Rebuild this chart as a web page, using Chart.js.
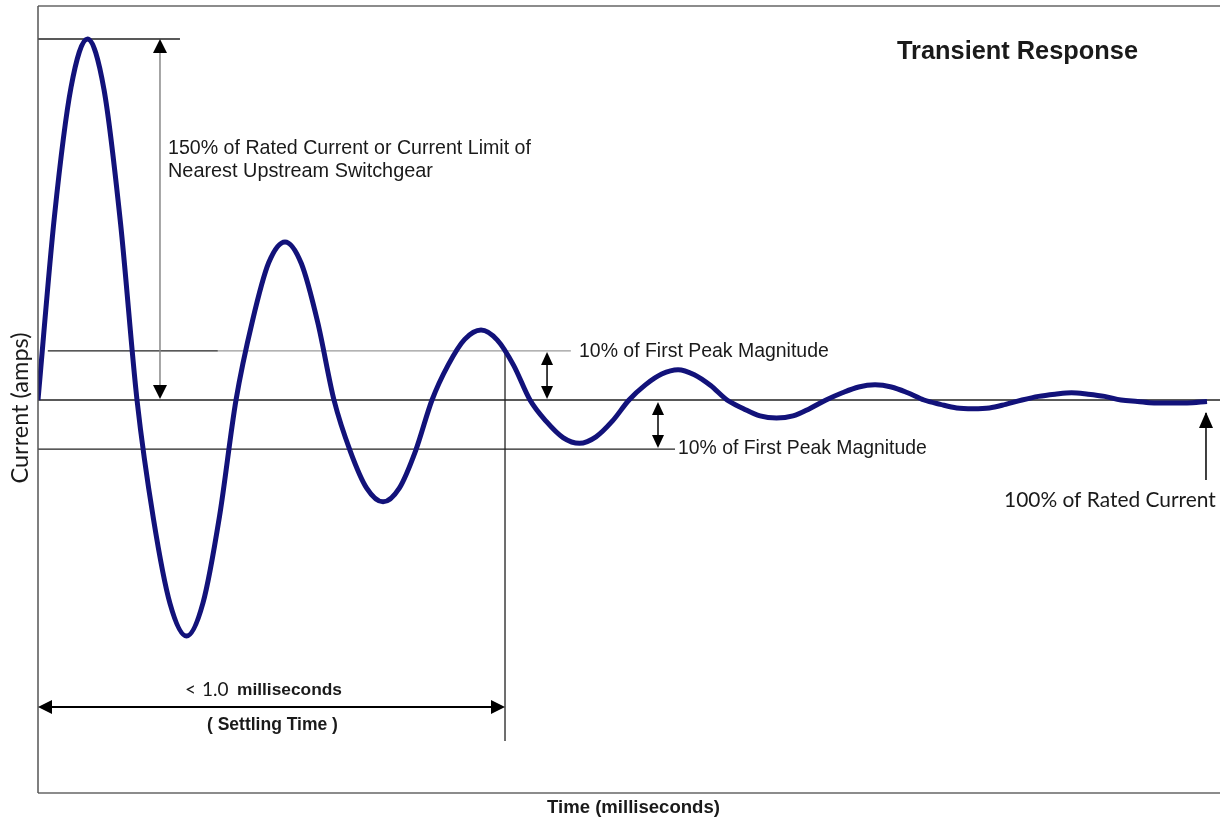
<!DOCTYPE html>
<html>
<head>
<meta charset="utf-8">
<script src="https://cdn.jsdelivr.net/npm/chart.js@4/dist/chart.umd.min.js"></script>
<style>
  html, body { margin: 0; padding: 0; background: #fff; }
  #wrap { width: 1220px; height: 820px; }
</style>
</head>
<body>
<div id="wrap"><canvas id="canvas" width="1220" height="820"></canvas></div>
<script>
// time in ms, current in % of rated current
var timeMs = [
  0, 0.0353, 0.0707, 0.1060, 0.1413, 0.1767,
  0.2120, 0.2473, 0.2827, 0.3180, 0.3533, 0.3887,
  0.4240, 0.4590, 0.4939, 0.5289, 0.5639, 0.5988,
  0.6338, 0.6688, 0.7038, 0.7388, 0.7737, 0.8087,
  0.8437, 0.8787, 0.9136, 0.9486, 0.9836, 1.0185,
  1.0535, 1.0888, 1.1242, 1.1595, 1.1948, 1.2302,
  1.2655, 1.3005, 1.3355, 1.3705, 1.4054, 1.4404,
  1.4754, 1.5107, 1.5461, 1.5814, 1.6167, 1.6521,
  1.6874, 1.7224, 1.7573, 1.7923, 1.8273, 1.8622,
  1.8972, 1.9322, 1.9672, 2.0022, 2.0371, 2.0721,
  2.1071, 2.1424, 2.1778, 2.2131, 2.2484, 2.2838,
  2.3191, 2.3544, 2.3898, 2.4251, 2.4604, 2.5032];
var currentPct = [
  100, 125.5, 143.3, 150.0, 143.0, 124.5,
  100, 83.5, 71.8, 67.3, 71.9, 83.9,
  100, 110.9, 119.0, 121.9, 118.9, 110.8,
  100, 92.9, 87.8, 85.9, 87.8, 93.0,
  100, 104.9, 108.4, 109.7, 108.3, 104.8,
  100, 97.0, 94.8, 94.0, 94.9, 97.1,
  100, 102.1, 103.6, 104.2, 103.5, 102.0,
  100, 98.8, 97.8, 97.5, 97.8, 98.8,
  100, 101.0, 101.8, 102.1, 101.8, 101.0,
  100, 99.4, 98.9, 98.8, 98.9, 99.4,
  100, 100.5, 100.8, 101.0, 100.8, 100.5,
  100, 99.8, 99.6, 99.6, 99.6, 99.8];

// reference levels
var ratedLevel = 100;
var firstPeak = 150;
var bandHigh = 106.8;
var bandLow = 93.2;
var settleMs = 1.0;

var xMax = 2.531, yMin = 45.57, yMax = 154.57;

function pts(xs, ys) {
  return xs.map(function (x, i) { return { x: x, y: ys[i] }; });
}

function refLine(xs, ys, color, w) {
  return { data: pts(xs, ys), borderColor: color, borderWidth: w, pointRadius: 0, tension: 0, order: 2 };
}

function head(ctx, x, y, dir, len, half) {
  // dir: 'up','down','left','right' – tip at (x,y)
  ctx.beginPath();
  ctx.moveTo(x, y);
  if (dir === 'up') { ctx.lineTo(x - half, y + len); ctx.lineTo(x + half, y + len); }
  if (dir === 'down') { ctx.lineTo(x - half, y - len); ctx.lineTo(x + half, y - len); }
  if (dir === 'left') { ctx.lineTo(x + len, y - half); ctx.lineTo(x + len, y + half); }
  if (dir === 'right') { ctx.lineTo(x - len, y - half); ctx.lineTo(x - len, y + half); }
  ctx.closePath();
  ctx.fill();
}

function line(ctx, x1, y1, x2, y2, color, w) {
  ctx.strokeStyle = color; ctx.lineWidth = w;
  ctx.beginPath(); ctx.moveTo(x1, y1); ctx.lineTo(x2, y2); ctx.stroke();
}

// pick font size so the text spans the wanted width
function fitFont(ctx, text, width, weight, family) {
  ctx.font = weight + ' 20px ' + family;
  var s = 20 * width / ctx.measureText(text).width;
  return weight + ' ' + s.toFixed(2) + 'px ' + family;
}

function txt(ctx, text, x, y, width, weight, family, align) {
  ctx.font = fitFont(ctx, text, width, weight, family);
  ctx.textAlign = align || 'left';
  ctx.textBaseline = 'middle';
  ctx.fillText(text, x, y);
}

var notes = {
  id: 'notes',
  afterDatasetsDraw: function (chart) {
    var ctx = chart.ctx, a = chart.chartArea;
    var X = function (v) { return chart.scales.x.getPixelForValue(v); };
    var Y = function (v) { return chart.scales.y.getPixelForValue(v); };
    ctx.save();

    // frame
    line(ctx, a.left, a.top, a.right, a.top, '#666', 1.5);
    line(ctx, a.left, a.bottom, a.right, a.bottom, '#666', 1.5);
    line(ctx, a.left, a.top, a.left, a.bottom, '#555', 1.5);

    ctx.fillStyle = '#000';
    // peak arrow
    var ax = X(0.2612);
    line(ctx, ax, Y(firstPeak) + 12, ax, Y(ratedLevel) - 12, '#888', 1.5);
    head(ctx, ax, Y(firstPeak), 'up', 14, 7);
    head(ctx, ax, Y(ratedLevel) - 1, 'down', 14, 7);

    // band arrows
    var bx = X(1.09);
    line(ctx, bx, Y(bandHigh) + 8, bx, Y(ratedLevel) - 8, '#000', 1.5);
    head(ctx, bx, Y(bandHigh) + 1, 'up', 13, 6);
    head(ctx, bx, Y(ratedLevel) - 1, 'down', 13, 6);
    var cx = X(1.3276);
    line(ctx, cx, Y(ratedLevel) + 8, cx, Y(bandLow) - 8, '#000', 1.5);
    head(ctx, cx, Y(ratedLevel) + 2, 'up', 13, 6);
    head(ctx, cx, Y(bandLow) - 1, 'down', 13, 6);

    // rated current arrow
    var rx = X(2.501);
    line(ctx, rx, Y(98.2), rx, Y(88.92), '#000', 1.5);
    head(ctx, rx, Y(98.34), 'up', 16, 7);

    // settling time arrow
    var sy = Y(57.48);
    line(ctx, X(0) + 10, sy, X(settleMs) - 10, sy, '#000', 1.8);
    head(ctx, X(0), sy, 'left', 14, 7);
    head(ctx, X(settleMs), sy, 'right', 14, 7);

    // texts
    ctx.fillStyle = '#1a1a1a';
    var arial = '"Liberation Sans", Arial, sans-serif';
    var soft = 'Lato, "Open Sans", sans-serif';
    txt(ctx, 'Transient Response', 897, 52, 241, 'bold', arial);
    txt(ctx, '150% of Rated Current or Current Limit of', 168, 149, 363, 'normal', arial);
    txt(ctx, 'Nearest Upstream Switchgear', 168, 172, 265, 'normal', arial);
    txt(ctx, '10% of First Peak Magnitude', 579, 352, 250, 'normal', arial);
    txt(ctx, '10% of First Peak Magnitude', 678, 449, 249, 'normal', arial);
    txt(ctx, '100% of Rated Current', 1004, 500, 212, 'normal', soft);
    ctx.font = 'normal 19px ' + soft;
    ctx.textAlign = 'left';
    ctx.fillText('<', 185, 690);
    ctx.fillText('1.0', 202, 690);
    txt(ctx, 'milliseconds', 237, 690, 105, 'bold', arial);
    txt(ctx, '( Settling Time )', 207, 725, 131, 'bold', arial);
    txt(ctx, 'Time (milliseconds)', 547, 808, 173, 'bold', arial);

    ctx.save();
    ctx.translate(20, 408);
    ctx.rotate(-Math.PI / 2);
    txt(ctx, 'Current (amps)', 0, 0, 151, 'normal', soft, 'center');
    ctx.restore();

    ctx.restore();
  }
};

new Chart(document.getElementById('canvas'), {
  type: 'line',
  data: {
    datasets: [
      { data: pts(timeMs, currentPct), borderColor: '#12127a', borderWidth: 5,
        pointRadius: 0, cubicInterpolationMode: 'monotone', order: 1 },
      refLine([0, xMax], [ratedLevel, ratedLevel], '#222', 1.3),
      refLine([0.021, 0.385], [bandHigh, bandHigh], '#222', 1.3),
      refLine([0.385, 1.141], [bandHigh, bandHigh], '#9a9a9a', 1.3),
      refLine([0, 1.364], [bandLow, bandLow], '#222', 1.3),
      refLine([0, 0.304], [firstPeak, firstPeak], '#222', 1.3),
      refLine([settleMs, settleMs], [bandHigh, 52.77], '#222', 1.3)
    ]
  },
  options: {
    responsive: false,
    animation: false,
    layout: { padding: { left: 38, top: 6, right: 0, bottom: 27 } },
    plugins: { legend: { display: false }, tooltip: { enabled: false }, title: { display: false } },
    scales: {
      x: { type: 'linear', display: false, min: 0, max: xMax },
      y: { type: 'linear', display: false, min: yMin, max: yMax }
    }
  },
  plugins: [notes]
});
</script>
</body>
</html>
